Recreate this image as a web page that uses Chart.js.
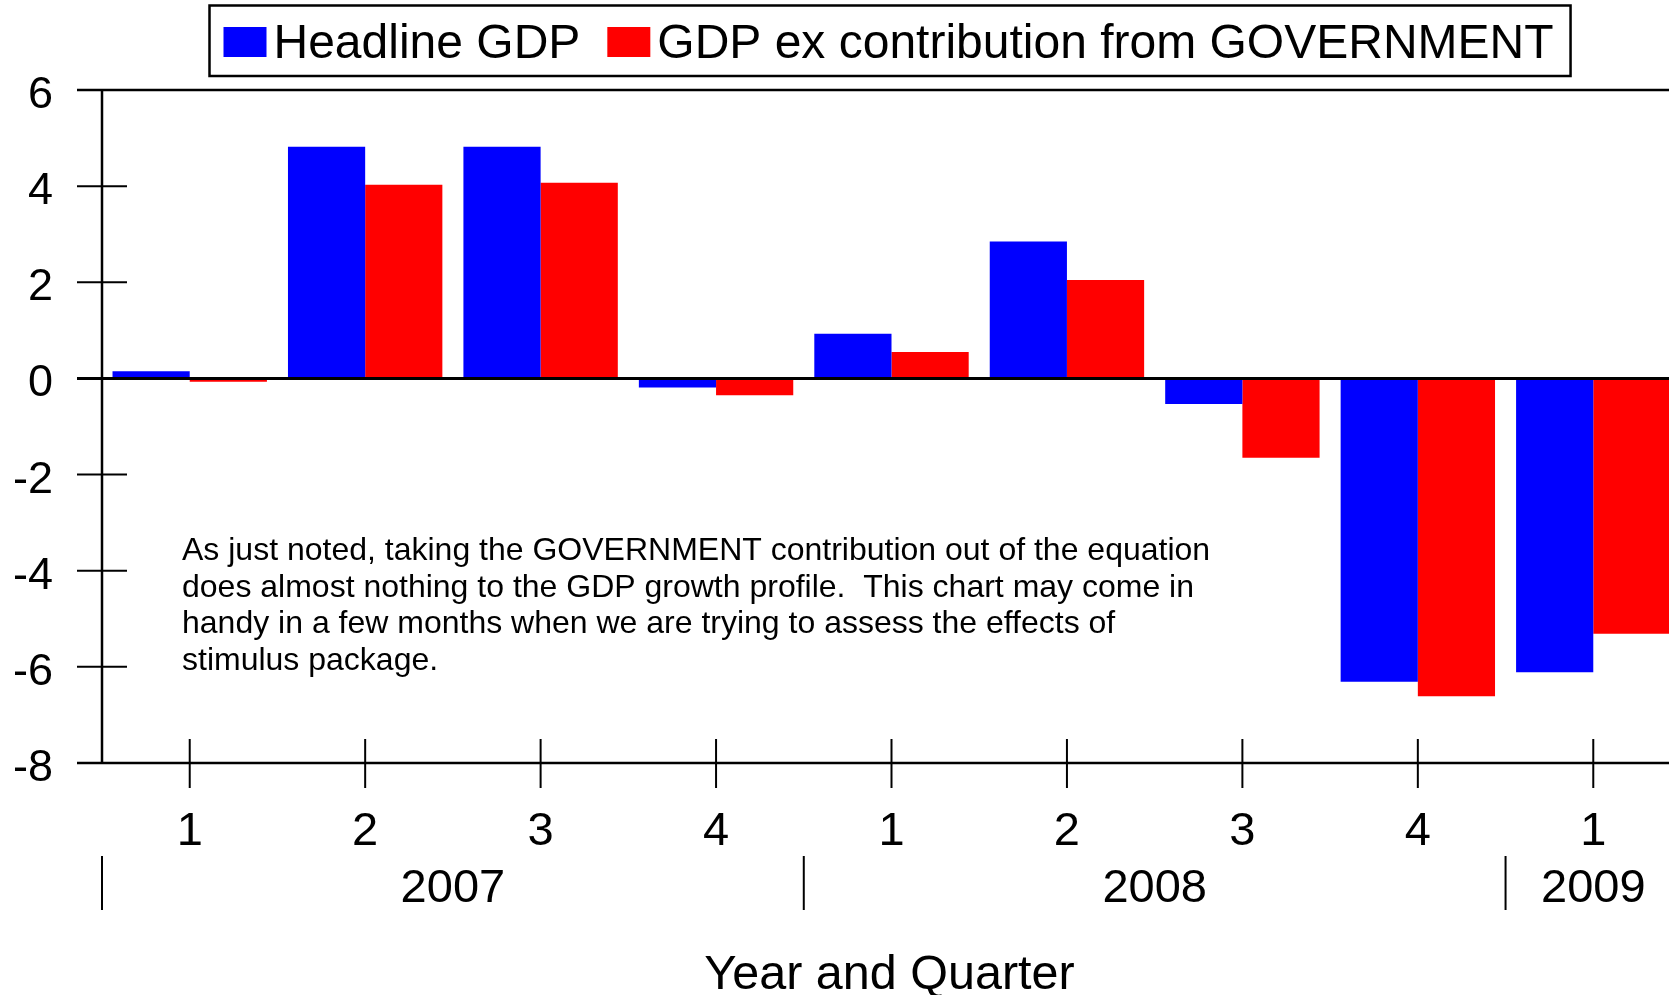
<!DOCTYPE html>
<html>
<head>
<meta charset="utf-8">
<title>Headline GDP vs GDP ex Government</title>
<script src="https://cdn.jsdelivr.net/npm/chart.js@4.4.1/dist/chart.umd.min.js"></script>
<style>
  html, body {
    margin: 0;
    padding: 0;
    background: #ffffff;
    overflow: hidden;
  }
  #wrap {
    width: 1681px;
    height: 995px;
  }
</style>
</head>
<body>
<div id="wrap"><canvas id="gdpChart" width="1681" height="995"></canvas></div>

<script>
// ================= DATA =================
const quarterLabels = ["1", "2", "3", "4", "1", "2", "3", "4", "1"];
const yearLabels = ["2007", "2008", "2009"];
const yearSpans = [4, 4, 1]; // quarters per year group

const headlineGDP = [0.15, 4.82, 4.82, -0.19, 0.93, 2.85, -0.53, -6.31, -6.11];
const gdpExGov = [-0.07, 4.03, 4.07, -0.35, 0.55, 2.05, -1.65, -6.61, -5.31];

const yTicks = [6, 4, 2, 0, -2, -4, -6, -8];
const yFullLines = [6, 0, -8];

const xTitle = "Year and Quarter";
const noteLines = [
  "As just noted, taking the GOVERNMENT contribution out of the equation",
  "does almost nothing to the GDP growth profile.  This chart may come in",
  "handy in a few months when we are trying to assess the effects of",
  "stimulus package.",
];

// ================= HELPERS =================
const FONT = '"Liberation Sans", Arial, sans-serif';

function line(ctx, x1, y1, x2, y2, w) {
  ctx.lineWidth = w;
  ctx.beginPath();
  ctx.moveTo(x1, y1);
  ctx.lineTo(x2, y2);
  ctx.stroke();
}

// ================= AXES + TEXT PLUGIN =================
const axesPlugin = {
  id: "axesPlugin",
  afterDatasetsDraw(chart) {
    const ctx = chart.ctx;
    const area = chart.chartArea;
    const xs = chart.scales.x;
    const ys = chart.scales.y;
    const W = chart.width;
    const step = xs.getPixelForValue(1) - xs.getPixelForValue(0);

    ctx.save();
    ctx.strokeStyle = "#000000";
    ctx.fillStyle = "#000000";
    ctx.textBaseline = "alphabetic";

    /* full horizontal lines (top, zero, bottom) */
    yFullLines.forEach((v) => {
      const y = ys.getPixelForValue(v);
      line(ctx, 77, y, W, y, v === 0 ? 3 : 2.5);
    });

    /* y axis */
    line(ctx, area.left, area.top, area.left, area.bottom, 2.5);

    /* y ticks + labels */
    ctx.font = "45px " + FONT;
    ctx.textAlign = "right";
    yTicks.forEach((v) => {
      const y = ys.getPixelForValue(v);
      line(ctx, 77, y, 127, y, 2);
      ctx.fillText(String(v), 53, y + 18);
    });

    /* x ticks + quarter labels */
    ctx.font = "47px " + FONT;
    ctx.textAlign = "center";
    quarterLabels.forEach((q, i) => {
      const x = xs.getPixelForValue(i);
      line(ctx, x, area.bottom - 24, x, area.bottom + 25, 2);
      ctx.fillText(q, x, 845);
    });

    /* year separators + year labels */
    let start = 0;
    yearLabels.forEach((yr, k) => {
      const first = xs.getPixelForValue(start);
      const last = xs.getPixelForValue(start + yearSpans[k] - 1);
      const edge = first - step / 2;
      line(ctx, edge, 856, edge, 910, 2);
      ctx.fillText(yr, (first + last) / 2, 902);
      start += yearSpans[k];
    });

    /* axis title */
    ctx.font = "48.5px " + FONT;
    ctx.fillText(xTitle, (area.left + area.right) / 2 - 2, 989);

    /* note */
    ctx.font = "32px " + FONT;
    ctx.textAlign = "left";
    noteLines.forEach((t, i) => {
      ctx.fillText(t, 182, 560 + i * 36.5);
    });

    /* legend */
    ctx.font = "48px " + FONT;
    let x = 223.5;
    chart.data.datasets.forEach((ds) => {
      ctx.fillStyle = ds.backgroundColor;
      ctx.fillRect(x, 27, 43, 30);
      ctx.fillStyle = "#000000";
      const tx = x + 50;
      ctx.fillText(ds.label, tx, 57.5);
      x = tx + ctx.measureText(ds.label).width + 27;
    });
    ctx.lineWidth = 2.5;
    ctx.strokeRect(209.5, 5.5, x - 27 + 17 - 209.5, 70.5);

    ctx.restore();
  },
};

// ================= CHART =================
const ctx = document.getElementById("gdpChart");

const chart = new Chart(ctx, {
  type: "bar",
  data: {
    labels: quarterLabels,
    datasets: [
      {
        label: "Headline GDP",
        data: headlineGDP,
        backgroundColor: "#0000ff",
        borderWidth: 0,
        categoryPercentage: 0.88,
        barPercentage: 1.0,
      },
      {
        label: "GDP ex contribution from GOVERNMENT",
        data: gdpExGov,
        backgroundColor: "#ff0000",
        borderWidth: 0,
        categoryPercentage: 0.88,
        barPercentage: 1.0,
      },
    ],
  },
  options: {
    responsive: false,
    animation: false,
    devicePixelRatio: 1,
    layout: {
      padding: { left: 102, right: 0, top: 90, bottom: 232 },
    },
    plugins: {
      legend: { display: false },
      tooltip: { enabled: false },
    },
    scales: {
      x: { display: false, offset: true },
      y: { display: false, min: -8, max: 6 },
    },
  },
  plugins: [axesPlugin],
});
</script>
</body>
</html>
